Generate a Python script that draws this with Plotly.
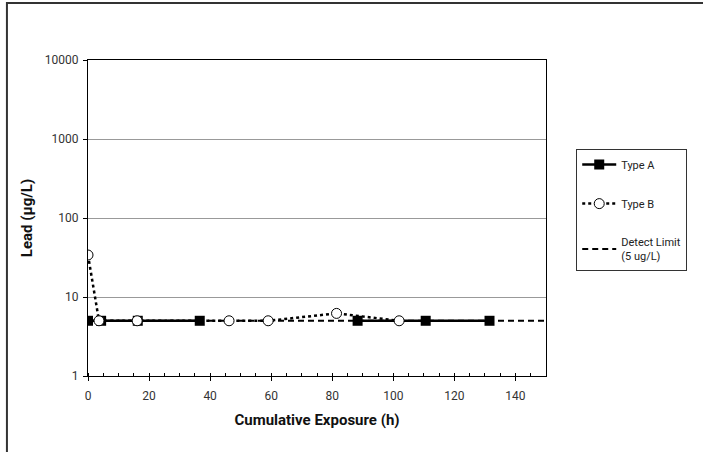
import plotly.graph_objects as go

# Data
type_a_x = [0, 4.3, 16.3, 36.6, 60, 88.3, 110.6, 131.5]
type_a_y = [5, 5, 5, 5, None, 5, 5, 5]
type_b_x = [0, 3.6, 16.1, 46.2, 59.0, 81.4, 101.9]
type_b_y = [34, 5, 5, 5, 5, 6.2, 5]
limit_x = [0, 150]
limit_y = [5, 5]
y_tickvals = [1, 10, 100, 1000, 10000]
y_ticktext = ["1", "10", "100", "1000", "10000"]

FONT = "Roboto, Liberation Sans, Arial"

fig = go.Figure()
fig.add_trace(go.Scatter(
    x=limit_x, y=limit_y, mode="lines", name="Detect Limit<br>(5 ug/L)",
    line=dict(color="black", width=2, dash="6px,4px"), legendgroup="c",
    legendrank=3))
fig.add_trace(go.Scatter(
    x=type_a_x, y=type_a_y, mode="lines+markers", name="Type A",
    line=dict(color="black", width=2.5), connectgaps=False,
    marker=dict(symbol="square", size=10, color="black"), legendgroup="a",
    legendrank=1))
fig.add_trace(go.Scatter(
    x=type_b_x, y=type_b_y, mode="lines+markers", name="Type B",
    line=dict(color="black", width=2.5, dash="3px,3px"),
    marker=dict(symbol="circle", size=10, color="white",
                line=dict(color="black", width=1)), legendgroup="b",
    legendrank=2))

fig.update_layout(
    width=703, height=452,
    margin=dict(l=88, r=157, t=60, b=76, autoexpand=False),
    paper_bgcolor="white", plot_bgcolor="white",
    font=dict(family=FONT, size=12, color="black"),
    legend=dict(x=1.066, xref="paper", y=0.718, xanchor="left", yanchor="top",
                bordercolor="#333", borderwidth=1,
                tracegroupgap=20, font=dict(size=11, color="#222"),
                itemwidth=34, traceorder="grouped"),
    xaxis=dict(range=[0, 150], dtick=20, tick0=0, automargin=False,
               ticks="outside", ticklen=4, tickcolor="black",
               ticklabelstandoff=5,
               showline=True, linecolor="black", linewidth=1, mirror=True,
               showgrid=False, zeroline=False,
               minor=dict(dtick=5, ticks="inside", ticklen=3, tickcolor="black"),
               title=dict(text="<b>Cumulative Exposure (h)</b>",
                          font=dict(size=15, color="#111"), standoff=12),
               tickfont=dict(size=12, color="#333")),
    yaxis=dict(type="log", range=[0, 4], automargin=False,
               tickvals=y_tickvals, ticktext=y_ticktext,
               ticks="outside", ticklen=4, tickcolor="black",
               ticklabelstandoff=2,
               showline=True, linecolor="black", linewidth=1, mirror=True,
               showgrid=True, gridcolor="#999999", gridwidth=1,
               zeroline=False,
               title=dict(text="<b>Lead (μg/L)</b>",
                          font=dict(size=15, color="#111"), standoff=8),
               tickfont=dict(size=12, color="#333")),
    shapes=[dict(type="rect", xref="paper", yref="paper",
                 x0=-0.177, x1=1.6, y0=-0.5, y1=1.18,
                 line=dict(color="#333", width=2), layer="below")],
)

fig.write_html("out.html", config={"displayModeBar": False})

with open("out.html", "r", encoding="utf-8") as f:
    html = f.read()
html = html.replace("<body>", '<body style="margin:0;padding:0;">', 1)
with open("out.html", "w", encoding="utf-8") as f:
    f.write(html)
